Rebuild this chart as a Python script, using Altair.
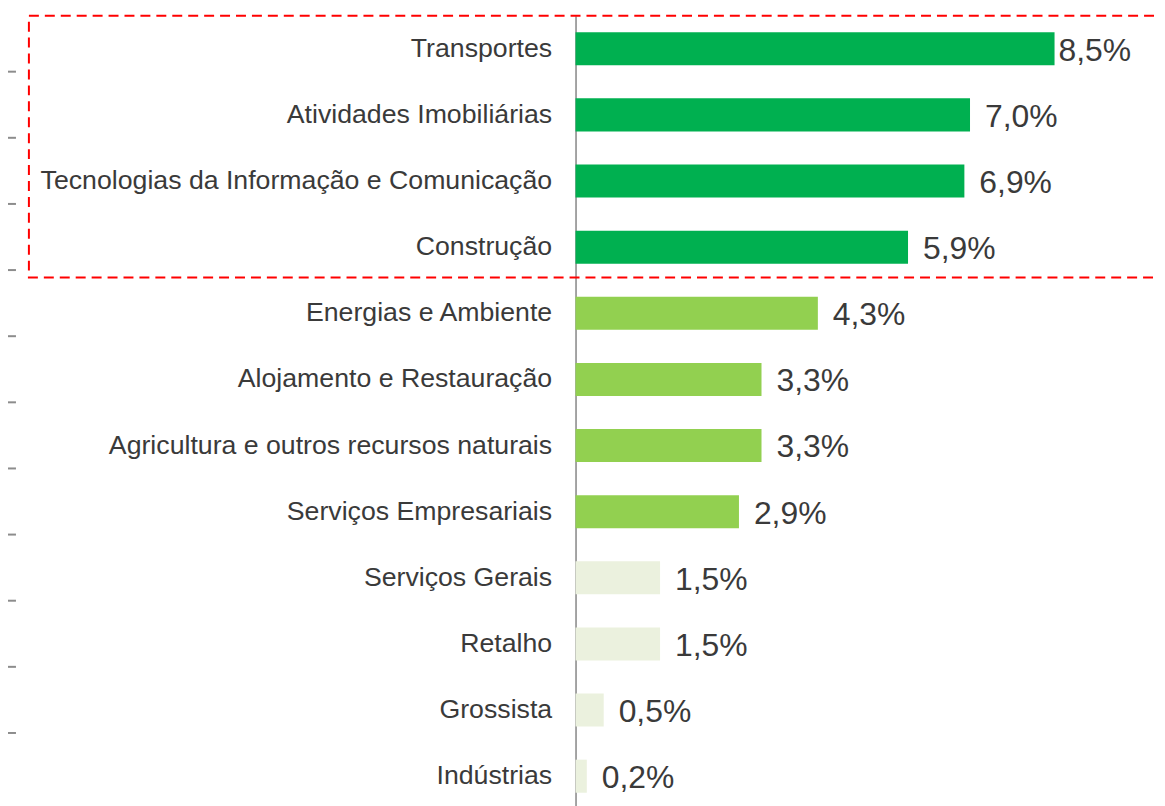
import altair as alt
import pandas as pd

categories = [
    "Transportes",
    "Atividades Imobiliárias",
    "Tecnologias da Informação e Comunicação",
    "Construção",
    "Energias e Ambiente",
    "Alojamento e Restauração",
    "Agricultura e outros recursos naturais",
    "Serviços Empresariais",
    "Serviços Gerais",
    "Retalho",
    "Grossista",
    "Indústrias",
]
values = [8.5, 7.0, 6.9, 5.9, 4.3, 3.3, 3.3, 2.9, 1.5, 1.5, 0.5, 0.2]
groups = ["alto"] * 4 + ["medio"] * 4 + ["baixo"] * 4

group_domain = ["alto", "medio", "baixo"]
group_colors = ["#00B050", "#92D050", "#EBF1DE"]

df = pd.DataFrame({"setor": categories, "valor": values, "grupo": groups})

FONT = "Liberation Sans"
TEXT = "#3a3a3a"

y_enc = alt.Y(
    "setor:N",
    sort=categories,
    scale=alt.Scale(domain=categories, paddingInner=0.5, paddingOuter=0.25),
    axis=alt.Axis(
        title=None,
        ticks=False,
        labelFont=FONT,
        labelFontSize=26.8,
        labelColor=TEXT,
        labelPadding=24,
        labelLimit=800,
        domainColor="#868686",
        domainWidth=1.5,
    ),
)
x_scale = alt.Scale(domain=[0, 10], nice=False, zero=True)

base = alt.Chart(df)

bars = base.mark_bar().encode(
    y=y_enc,
    x=alt.X("valor:Q", scale=x_scale, axis=None),
    color=alt.Color("grupo:N", scale=alt.Scale(domain=group_domain, range=group_colors), legend=None),
)

label_calc = "replace(format(datum.valor, '.1f'), '.', ',') + '%'"

labels = base.transform_filter("datum.valor < 8").transform_calculate(rot=label_calc).mark_text(
    align="left", baseline="middle", dx=15, dy=2, font=FONT, fontSize=32, color=TEXT
).encode(
    y=alt.Y("setor:N", sort=categories),
    x=alt.X("valor:Q", scale=x_scale),
    text="rot:N",
)

labels_top = base.transform_filter("datum.valor >= 8").transform_calculate(rot=label_calc).mark_text(
    align="left", baseline="middle", dx=4, dy=2, font=FONT, fontSize=32, color=TEXT
).encode(
    y=alt.Y("setor:N", sort=categories),
    x=alt.X("valor:Q", scale=x_scale),
    text="rot:N",
)

edge_ticks = base.transform_filter("datum.setor != 'Indústrias'").mark_rule(
    color="#8c8c8c", strokeWidth=2, yOffset=23
).encode(
    y=alt.Y("setor:N", sort=categories),
    x=alt.value(-570),
    x2=alt.value(-562),
)

box = alt.Chart(pd.DataFrame({"k": [0]})).mark_rect(
    fill=None, stroke="#FF0000", strokeWidth=2, strokeDash=[10, 6]
).encode(
    x=alt.value(-549),
    x2=alt.value(700),
    y=alt.value(0),
    y2=alt.value(263),
)

chart = (
    alt.layer(bars, labels, labels_top, edge_ticks, box)
    .properties(
        width=566,
        height=797,
        autosize=alt.AutoSizeParams(type="none"),
        padding={"left": 570, "top": 6, "right": 18, "bottom": 0},
    )
    .configure_view(stroke=None)
)

chart.save("out.html", embed_options={"renderer": "svg", "actions": False})
